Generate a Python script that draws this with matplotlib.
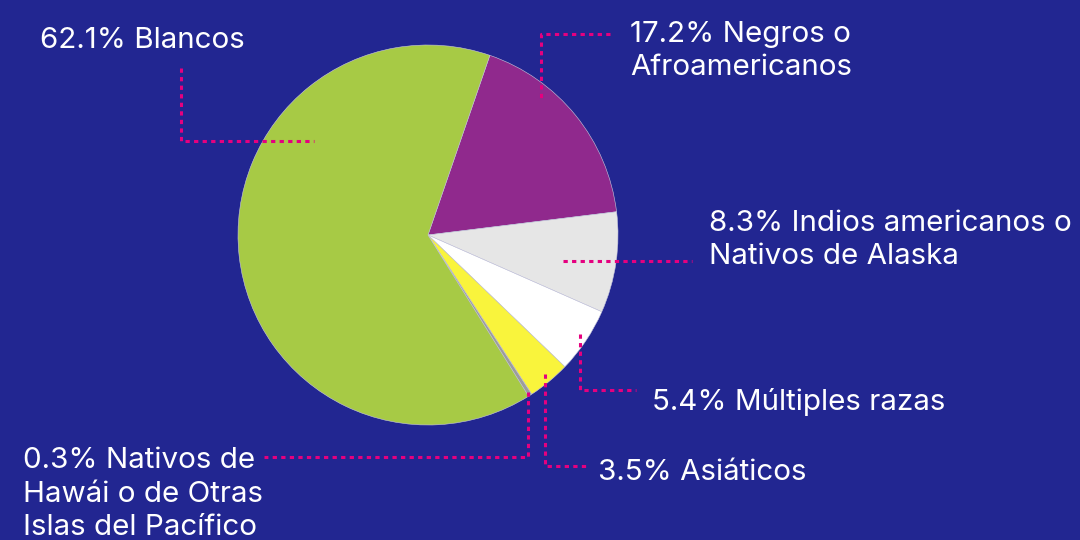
import matplotlib
matplotlib.use("Agg")
import matplotlib.pyplot as plt

# ---- data ----
categories = ["Negros o\nAfroamericanos",
              "Indios americanos o\nNativos de Alaska",
              "Múltiples razas",
              "Asiáticos",
              "Nativos de\nHawái o de Otras\nIslas del Pacífico",
              "Blancos"]
values = [17.2, 8.3, 5.4, 3.5, 0.3, 62.1]
colors = ["#90298D", "#E6E6E6", "#FFFFFF", "#F9F43C", "#9C9C9C", "#A7CA45"]

BG = "#222691"
PINK = "#E5007F"
W, H = 1080, 540

fig = plt.figure(figsize=(10.8, 5.4), dpi=100, facecolor=BG)

# pie axes (pixel layout: centre 428,235 radius 190)
cx, cy, r = 428, 235, 190
ax = fig.add_axes([(cx - r) / W, (H - cy - r) / H, 2 * r / W, 2 * r / H])
ax.pie(values, colors=colors, startangle=71, counterclock=False,
       wedgeprops=dict(linewidth=0.4, edgecolor="#C8C8DC"))
ax.set_xlim(-1, 1)
ax.set_ylim(-1, 1)
ax.set_aspect("equal")
ax.axis("off")

# overlay axes in pixel coordinates for leaders and labels
ov = fig.add_axes([0, 0, 1, 1], facecolor="none")
ov.set_xlim(0, W)
ov.set_ylim(H, 0)
ov.axis("off")

# leader paths (layout) and label anchors (layout), in the same order as data
leaders = [
    [(610, 34), (541, 34), (541, 99)],
    [(563, 261), (692, 261)],
    [(580, 334), (580, 390), (636, 390)],
    [(545, 374), (545, 466), (588, 466)],
    [(528, 392), (528, 457), (264, 457)],
    [(181, 68), (181, 141), (314, 141)],
]
anchors = [
    (630, 51, "left"),
    (709, 240, "left"),
    (652, 402, "left"),
    (598, 472, "left"),
    (23, 494, "left"),
    (40, 40, "left"),
]

for path, (tx, ty, ha), v, lab in zip(leaders, anchors, values, categories):
    xs = [p[0] for p in path]
    ys = [p[1] for p in path]
    ov.plot(xs, ys, color=PINK, lw=2.2, linestyle=(0, (1.4, 1.4)),
            solid_capstyle="butt", dash_capstyle="butt")
    ov.text(tx, ty, f"{v}% {lab}", color="white", fontsize=21.3,
            family=["Inter", "DejaVu Sans"], fontweight="normal",
            ha=ha, va="center", linespacing=1.33)

fig.savefig("out.png", dpi=100, facecolor=BG)
